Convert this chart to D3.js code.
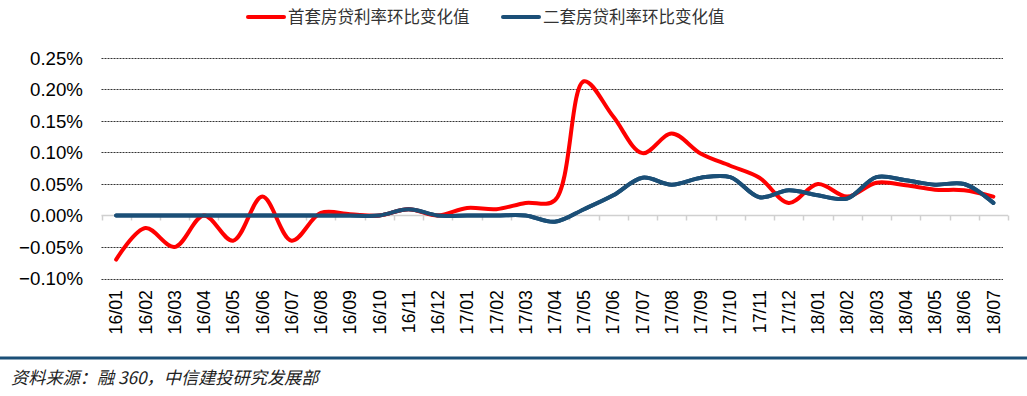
<!DOCTYPE html>
<html>
<head>
<meta charset="utf-8">
<script src="https://cdn.jsdelivr.net/npm/d3@7"></script>
<style>
  body { margin: 0; background: #fff; }
  svg { display: block; }
</style>
</head>
<body>
<svg id="chart" width="1027" height="396"></svg>
<script>
// months on the x axis
var months = ["16/01","16/02","16/03","16/04","16/05","16/06","16/07","16/08","16/09","16/10","16/11","16/12",
              "17/01","17/02","17/03","17/04","17/05","17/06","17/07","17/08","17/09","17/10","17/11","17/12",
              "18/01","18/02","18/03","18/04","18/05","18/06","18/07"];

// 首套房贷利率环比变化值 (%)
var firstHome = [-0.07,-0.02,-0.05,0.00,-0.04,0.03,-0.04,0.004,0.002,0.00,0.01,0.00,
                 0.012,0.01,0.02,0.024,0.213,0.157,0.099,0.13,0.098,0.079,0.06,0.02,
                 0.05,0.03,0.052,0.048,0.041,0.04,0.03];

// 二套房贷利率环比变化值 (%)
var secondHome = [0,0,0,0,0,0,0,0,0,0,0.01,0,
                  0,0,0,-0.01,0.01,0.032,0.06,0.049,0.06,0.061,0.029,0.04,
                  0.032,0.027,0.061,0.056,0.049,0.05,0.02];

var yTicks = [-0.10,-0.05,0.00,0.05,0.10,0.15,0.20,0.25];

var seriesNames = ["首套房贷利率环比变化值","二套房贷利率环比变化值"];
var colors = ["#ff0000","#1b4f77"];

var svg = d3.select("#chart");
var margin = {top: 58, left: 101.5, right: 1008, bottom: 278.5};

var x = d3.scaleBand()
  .domain(months)
  .range([margin.left, margin.right]);

var y = d3.scaleLinear()
  .domain([-0.10, 0.25])
  .range([margin.bottom, margin.top]);

// dotted grid lines
svg.append("g")
  .selectAll("line")
  .data(yTicks.filter(function(d) { return d !== 0; }))
  .enter().append("line")
  .attr("x1", margin.left)
  .attr("x2", 1003)
  .attr("y1", function(d) { return Math.round(y(d)) + 0.5; })
  .attr("y2", function(d) { return Math.round(y(d)) + 0.5; })
  .attr("stroke", "#333")
  .attr("stroke-width", 1)
  .attr("stroke-dasharray", "2,1");

// y axis labels
svg.append("g")
  .selectAll("text")
  .data(yTicks)
  .enter().append("text")
  .attr("x", 83)
  .attr("y", function(d) { return y(d); })
  .attr("dy", "0.36em")
  .attr("text-anchor", "end")
  .attr("font-family", "Liberation Sans, Arial, sans-serif")
  .attr("font-size", 18.7)
  .attr("fill", "#000")
  .text(function(d) { return d3.format(".2f")(d) + "%"; });

// zero axis with ticks between categories
var zeroY = Math.round(y(0)) + 0.5;
svg.append("line")
  .attr("x1", margin.left).attr("x2", margin.right)
  .attr("y1", zeroY).attr("y2", zeroY)
  .attr("stroke", "#d0d0d0").attr("stroke-width", 1.5);
svg.append("g")
  .selectAll("line")
  .data(months.concat(["end"]))
  .enter().append("line")
  .attr("x1", function(d, i) { return Math.round(margin.left + i * x.bandwidth()) + 0.5; })
  .attr("x2", function(d, i) { return Math.round(margin.left + i * x.bandwidth()) + 0.5; })
  .attr("y1", zeroY)
  .attr("y2", zeroY + 5)
  .attr("stroke", "#d0d0d0")
  .attr("stroke-width", 1.5);

// x labels, rotated
svg.append("g")
  .selectAll("text")
  .data(months)
  .enter().append("text")
  .attr("transform", function(d) {
    return "translate(" + (x(d) + x.bandwidth() / 2) + ",290) rotate(-90)";
  })
  .attr("dy", "0.35em")
  .attr("text-anchor", "end")
  .attr("font-family", "Liberation Sans, Arial, sans-serif")
  .attr("font-size", 17.8)
  .attr("fill", "#000")
  .text(function(d) { return d; });

// lines
var line = d3.line()
  .x(function(d, i) { return x(months[i]) + x.bandwidth() / 2; })
  .y(function(d) { return y(d); })
  .curve(d3.curveCatmullRom.alpha(0.5));

[secondHome, firstHome, secondHome].forEach(function(s, k) {
  svg.append("path")
    .datum(s)
    .attr("d", line)
    .attr("fill", "none")
    .attr("stroke", k === 1 ? colors[0] : colors[1])
    .attr("stroke-width", 4)
    .attr("stroke-linejoin", "round")
    .attr("stroke-linecap", "round");
});

// legend
var legendX = [248, 503];
seriesNames.forEach(function(name, i) {
  svg.append("line")
    .attr("x1", legendX[i]).attr("x2", legendX[i] + 36)
    .attr("y1", 17).attr("y2", 17)
    .attr("stroke", colors[i])
    .attr("stroke-width", 4)
    .attr("stroke-linecap", "round");
  svg.append("text")
    .attr("x", legendX[i] + 40)
    .attr("y", 17)
    .attr("dy", "0.36em")
    .attr("font-family", "Noto Sans CJK SC, sans-serif")
    .attr("font-size", 16.5)
    .attr("fill", "#333")
    .text(name);
});

// bottom rule and source note
svg.append("rect")
  .attr("x", 0).attr("y", 356.5)
  .attr("width", 1027).attr("height", 3)
  .attr("fill", "#1b4f77");

svg.append("text")
  .attr("x", 11)
  .attr("y", 384)
  .attr("font-family", "Noto Sans CJK SC, sans-serif")
  .attr("font-size", 17.2)
  .attr("font-style", "italic")
  .attr("fill", "#222")
  .text("资料来源：融 360，中信建投研究发展部");
</script>
</body>
</html>
